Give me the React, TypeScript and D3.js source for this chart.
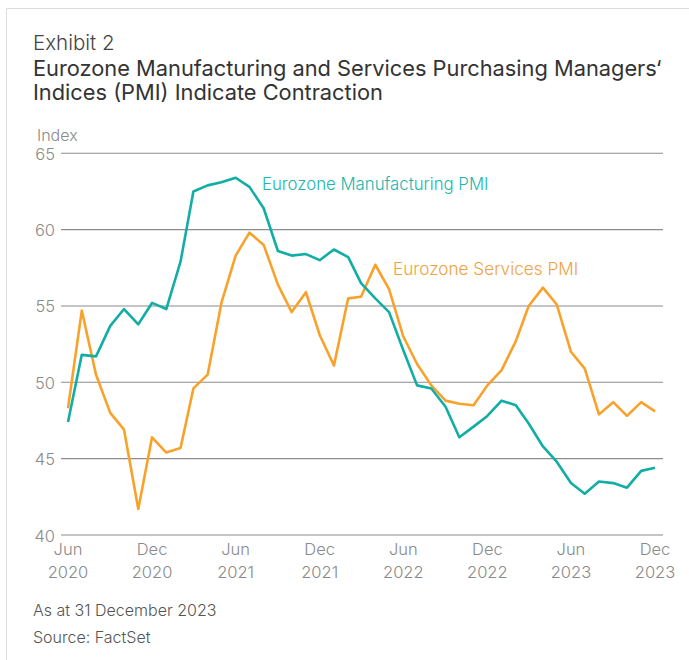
import React from "react";
import * as d3 from "d3";

const START = new Date(2020, 5, 1);
const END = new Date(2023, 11, 1);
const months = d3.timeMonth.range(START, d3.timeMonth.offset(END, 1));

const manufacturing = [
  47.4, 51.8, 51.7, 53.7, 54.8, 53.8, 55.2, 54.8, 57.9, 62.5, 62.9, 63.1, 63.4,
  62.8, 61.4, 58.6, 58.3, 58.4, 58.0, 58.7, 58.2, 56.5, 55.5, 54.6, 52.1, 49.8,
  49.6, 48.4, 46.4, 47.1, 47.8, 48.8, 48.5, 47.3, 45.8, 44.8, 43.4, 42.7, 43.5,
  43.4, 43.1, 44.2, 44.4,
];
const services = [
  48.3, 54.7, 50.5, 48.0, 46.9, 41.7, 46.4, 45.4, 45.7, 49.6, 50.5, 55.2, 58.3,
  59.8, 59.0, 56.4, 54.6, 55.9, 53.1, 51.1, 55.5, 55.6, 57.7, 56.1, 53.0, 51.2,
  49.8, 48.8, 48.6, 48.5, 49.8, 50.8, 52.7, 55.0, 56.2, 55.1, 52.0, 50.9, 47.9,
  48.7, 47.8, 48.7, 48.1,
];
const yTicks = [40, 45, 50, 55, 60, 65];
const xTickMonths = ["Jun", "Dec", "Jun", "Dec", "Jun", "Dec", "Jun", "Dec"];
const xTickYears = ["2020", "2020", "2021", "2021", "2022", "2022", "2023", "2023"];
const xTickDates = [
  new Date(2020, 5, 1), new Date(2020, 11, 1), new Date(2021, 5, 1), new Date(2021, 11, 1),
  new Date(2022, 5, 1), new Date(2022, 11, 1), new Date(2023, 5, 1), new Date(2023, 11, 1),
];

const TEAL = "#12ada4";
const ORANGE = "#f8a22c";
const FONT = "Inter, Roboto, 'Helvetica Neue', Arial, sans-serif";

export default function App() {
  const W = 689, H = 660;
  const x = d3.scaleTime().domain([START, END]).range([68, 655]);
  const y = d3.scaleLinear().domain([40, 65]).range([535, 153.3]);
  const line = d3
    .line<number>()
    .x((_, i) => x(months[i]))
    .y((d) => y(d));

  return (
    <svg
      width={W}
      height={H}
      style={{ position: "absolute", left: 0, top: 0, background: "#fff" }}
      fontFamily={FONT}
    >
      <line x1={6.5} y1={8.5} x2={W} y2={8.5} stroke="#dcdcdc" strokeWidth={1} />
      <line x1={6.5} y1={8.5} x2={6.5} y2={H} stroke="#dcdcdc" strokeWidth={1} />

      <text x={33} y={50} fontSize={20.5} fontWeight={300} fill="#444">Exhibit 2</text>
      <text x={33} y={76} fontSize={21.8} fontWeight={400} fill="#333">
        Eurozone Manufacturing and Services Purchasing Managers‘
      </text>
      <text x={33} y={100} fontSize={21.8} fontWeight={400} fill="#333">
        Indices (PMI) Indicate Contraction
      </text>

      <text x={37} y={141} fontSize={16} fontWeight={300} fill="#8a8a8a">Index</text>

      {yTicks.map((t) => (
        <g key={t}>
          <line x1={61} x2={663} y1={y(t)} y2={y(t)} stroke="#8c8c8c" strokeWidth={1.1} />
          <text x={55} y={y(t) + 6.5} textAnchor="end" fontSize={16.5} fontWeight={300} fill="#8a8a8a">
            {t}
          </text>
        </g>
      ))}

      {xTickDates.map((d, i) => (
        <g key={i}>
          <text x={x(d)} y={555} textAnchor="middle" fontSize={16.5} fontWeight={300} fill="#8a8a8a">
            {xTickMonths[i]}
          </text>
          <text x={x(d)} y={578} textAnchor="middle" fontSize={16.5} fontWeight={300} fill="#8a8a8a">
            {xTickYears[i]}
          </text>
        </g>
      ))}

      <path d={line(services) || ""} fill="none" stroke={ORANGE} strokeWidth={2.6} strokeLinejoin="round" />
      <path d={line(manufacturing) || ""} fill="none" stroke={TEAL} strokeWidth={2.6} strokeLinejoin="round" />

      <text x={262} y={190} fontSize={16.8} fontWeight={300} fill="#22b5ac">Eurozone Manufacturing PMI</text>
      <text x={393} y={275} fontSize={17.2} fontWeight={300} fill="#f2a23c">Eurozone Services PMI</text>

      <text x={33} y={616} fontSize={16} fontWeight={300} fill="#555">As at 31 December 2023</text>
      <text x={33} y={643} fontSize={16} fontWeight={300} fill="#555">Source: FactSet</text>
    </svg>
  );
}
